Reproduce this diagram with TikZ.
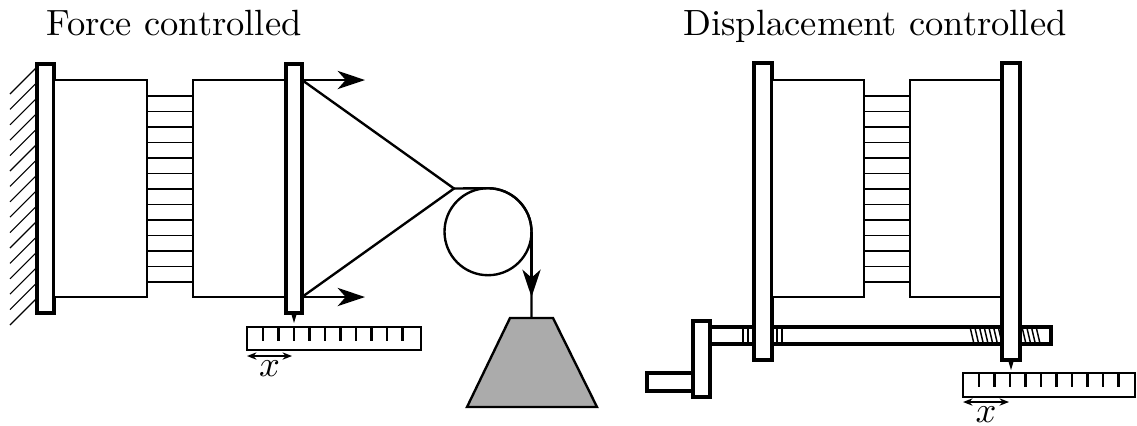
\documentclass[tikz,border=0pt]{standalone}
\usetikzlibrary{arrows.meta}
\begin{document}
\begin{tikzpicture}[x=2.74pt,y=2.74pt,
    plate/.style={line width=1pt,fill=white},
    block/.style={line width=0.65pt,fill=white},
    fibre/.style={line width=0.3pt},
    rope/.style={line width=0.65pt},
    pull/.style={line width=0.65pt,-{Stealth[length=7.5pt,width=5pt,inset=2.2pt]}},
    scalebar/.style={line width=0.65pt},
    shiftarrow/.style={semithick,{Stealth[length=2.6pt,width=2pt]}-{Stealth[length=2.6pt,width=2pt]}}]
  \useasboundingbox (0,0) rectangle (113.7,42.5);

  % ---------------- force controlled ----------------
  \node[anchor=base] (ftitle) at (17.4,39.0) {Force controlled};
  % clamped wall
  \foreach \k in {0,...,15}
    \draw[fibre] (3.7,{35.8-1.54*\k}) -- ++(-2.7,-2.7);
  \draw[plate] (3.7,11.2) rectangle (5.4,36.1);
  % the two halves and the bonds between them
  \draw[block] (5.4,12.8) rectangle (14.7,34.5);
  \foreach \k in {0,...,12}
    \draw[fibre] (14.7,{14.3+1.55*\k}) -- (19.3,{14.3+1.55*\k});
  \draw[block] (19.3,12.8) rectangle (28.6,34.5);
  \draw[plate] (28.6,11.2) rectangle (30.2,36.1);
  \fill (29.1,11.2) -- (29.7,11.2) -- (29.4,10.2) -- cycle;
  % pulling forces
  \draw[pull] (30.2,34.5) -- (36.5,34.5);
  \draw[pull] (30.2,12.8) -- (36.5,12.8);
  % rope over the pulley to the weight
  \coordinate (knot) at (45.4,23.65);
  \coordinate (pulley) at (48.8,19.33);
  \draw[rope] (30.2,34.5) -- (knot) -- (30.2,12.8);
  \draw[rope] (pulley) circle (4.35);
  \draw[rope] (knot) -- (48.8,23.68) arc[start angle=90,end angle=0,radius=4.35] -- (53.15,10.7);
  \draw[pull] (53.15,19.33) -- (53.15,12.8);
  \draw[rope,fill=black!33] (51.0,10.7) -- (55.3,10.7) -- (59.7,1.8) -- (46.7,1.8) -- cycle;
  % scale
  \draw[scalebar] (24.7,7.5) rectangle (42.1,9.8);
  \foreach \k in {0,...,9}
    \draw[scalebar] ({26.3+1.55*\k},9.8) -- ++(0,-1.4);
  \draw[shiftarrow] (24.7,6.9) -- node[below,inner sep=1pt] (fx) {$x$} (29.2,6.9);

  % ---------------- displacement controlled ----------------
  \node[anchor=base] (dtitle) at (87.5,39.0) {Displacement controlled};
  % spindle with bushing and thread
  \draw[plate] (70.8,8.1) rectangle (105.1,9.8);
  \foreach \x in {74.3,74.8,77.7,78.2}
    \draw[fibre] (\x,8.1) -- (\x,9.8);
  \foreach \x in {97.0,97.47,...,99.9,102.2,102.67,103.14,103.61}
    \draw[thin] (\x,9.8) -- ++(0.4,-1.7);
  % crank
  \draw[plate] (64.7,3.4) rectangle (69.3,5.2);
  \draw[plate] (69.3,2.8) rectangle (71.0,10.4);
  % plates, halves and bonds
  \draw[plate] (75.4,6.5) rectangle (77.2,36.2);
  \draw[block] (77.2,12.8) rectangle (86.4,34.5);
  \foreach \k in {0,...,12}
    \draw[fibre] (86.4,{14.3+1.55*\k}) -- (91.0,{14.3+1.55*\k});
  \draw[block] (91.0,12.8) rectangle (100.2,34.5);
  \draw[plate] (100.2,6.5) rectangle (102.0,36.2);
  \fill (100.8,6.5) -- (101.4,6.5) -- (101.1,5.5) -- cycle;
  % scale
  \draw[scalebar] (96.3,2.8) rectangle (113.5,5.2);
  \foreach \k in {0,...,9}
    \draw[scalebar] ({97.9+1.55*\k},5.2) -- ++(0,-1.4);
  \draw[shiftarrow] (96.3,2.3) -- node[below,inner sep=1pt] (dx) {$x$} (100.9,2.3);
\end{tikzpicture}
\end{document}
